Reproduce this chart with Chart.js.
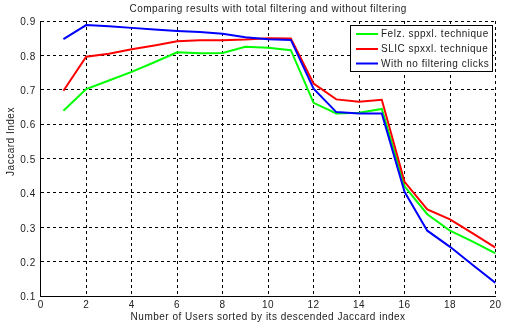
<!DOCTYPE html>
<html>
<head>
<meta charset="utf-8">
<script src="https://cdn.jsdelivr.net/npm/chart.js@4.4.0/dist/chart.umd.min.js"></script>
<style>
  html, body { margin: 0; padding: 0; background: #ffffff; }
  #wrap { width: 507px; height: 329px; }
</style>
</head>
<body>
<div id="wrap"><canvas id="c" width="507" height="329"></canvas></div>
<script>
// ---- data ----
const userIndex = [1, 2, 3, 4, 5, 6, 7, 8, 9, 10, 11, 12, 13, 14, 15, 16, 17, 18, 19, 20];
const felzValues = [0.639, 0.702, 0.727, 0.752, 0.780, 0.809, 0.806, 0.807, 0.825, 0.822,
                    0.815, 0.662, 0.631, 0.633, 0.644, 0.419, 0.338, 0.290, 0.258, 0.224];
const slicValues = [0.697, 0.796, 0.805, 0.818, 0.829, 0.841, 0.844, 0.844, 0.846, 0.850,
                    0.849, 0.718, 0.672, 0.665, 0.671, 0.432, 0.352, 0.323, 0.282, 0.241];
const noFilterValues = [0.847, 0.888, 0.885, 0.880, 0.875, 0.871, 0.868, 0.863, 0.853, 0.847,
                        0.845, 0.703, 0.635, 0.631, 0.631, 0.403, 0.290, 0.243, 0.190, 0.138];
const seriesLabels = ['Felz. sppxl. technique', 'SLIC spxxl. technique', 'With no filtering clicks'];
const chartTitle = 'Comparing results with total filtering and without filtering';
const xAxisTitle = 'Number of Users sorted by its descended Jaccard index';
const yAxisTitle = 'Jaccard Index';
const xTickValues = [0, 2, 4, 6, 8, 10, 12, 14, 16, 18, 20];
const yTickValues = [0.1, 0.2, 0.3, 0.4, 0.5, 0.6, 0.7, 0.8, 0.9];

const FONT = '"Liberation Sans", Arial, sans-serif';
const TEXT = '#222222';
const SPACING = '0.5px';

function pts(vals) { return userIndex.map((x, i) => ({ x: x, y: vals[i] })); }

const spacingPlugin = {
  id: 'letterSpacing',
  beforeInit(chart) { chart.ctx.letterSpacing = SPACING; },
  beforeUpdate(chart) { chart.ctx.letterSpacing = SPACING; },
  beforeDraw(chart) { chart.ctx.letterSpacing = SPACING; }
};

const annotationsPlugin = {
  id: 'legendBox',
  afterDraw(chart) {
    const ctx = chart.ctx;
    const area = chart.chartArea;
    ctx.save();
    ctx.letterSpacing = SPACING;
    ctx.font = '10px ' + FONT;
    ctx.fillStyle = TEXT;
    ctx.textBaseline = 'middle';
    // chart title, centred over the plot area
    ctx.textAlign = 'center';
    ctx.fillText(chartTitle, (area.left + area.right) / 2, 9.5);

    // legend box
    const x0 = 350.5, y0 = 25.5, w = 142, h = 46;
    ctx.fillStyle = '#ffffff';
    ctx.fillRect(x0, y0, w, h);
    ctx.strokeStyle = '#000000';
    ctx.lineWidth = 1;
    ctx.setLineDash([]);
    ctx.strokeRect(x0, y0, w, h);
    const ds = chart.data.datasets;
    const rows = [34, 49, 63.5];
    ctx.textAlign = 'left';
    ds.forEach((d, i) => {
      ctx.strokeStyle = d.borderColor;
      ctx.lineWidth = 2;
      ctx.beginPath();
      ctx.moveTo(356, rows[i]);
      ctx.lineTo(378, rows[i]);
      ctx.stroke();
      ctx.fillStyle = TEXT;
      ctx.fillText(d.label, 381, rows[i] + 0.5);
    });
    // y axis title
    ctx.save();
    ctx.translate(11, 141.5);
    ctx.rotate(-Math.PI / 2);
    ctx.textAlign = 'center';
    ctx.fillStyle = TEXT;
    ctx.fillText(yAxisTitle, 0, 0);
    ctx.restore();
    ctx.restore();
  }
};

const ctx = document.getElementById('c').getContext('2d');
new Chart(ctx, {
  type: 'line',
  data: {
    datasets: [
      { label: seriesLabels[0], data: pts(felzValues), borderColor: '#00ff00', order: 2 },
      { label: seriesLabels[1], data: pts(slicValues), borderColor: '#ff0000', order: 1 },
      { label: seriesLabels[2], data: pts(noFilterValues), borderColor: '#0000ff', order: 0 }
    ]
  },
  options: {
    responsive: false,
    animation: false,
    devicePixelRatio: 1,
    layout: { padding: { top: 21, right: 11.5, bottom: 0, left: 0 } },
    elements: {
      line: { borderWidth: 2, tension: 0, fill: false },
      point: { radius: 0, hoverRadius: 0 }
    },
    plugins: {
      legend: { display: false },
      tooltip: { enabled: false },
      title: { display: false }
    },
    scales: {
      x: {
        type: 'linear',
        min: 0, max: 20,
        afterFit(s) { s.height = 33; },
        afterBuildTicks(s) { s.ticks = xTickValues.map(v => ({ value: v })); },
        ticks: { color: TEXT, font: { family: FONT, size: 10 }, padding: 3, maxRotation: 0, autoSkip: false },
        grid: { color: '#000000', lineWidth: 1, drawTicks: false },
        border: { display: true, color: '#000000', width: 1, dash: [3, 3] },
        title: {
          display: true, text: xAxisTitle, color: TEXT,
          font: { family: FONT, size: 10 }, padding: { top: 0, bottom: 6 }
        }
      },
      y: {
        type: 'linear',
        min: 0.1, max: 0.9,
        afterFit(s) { s.width = 40.7; },
        afterBuildTicks(s) { s.ticks = yTickValues.map(v => ({ value: v })); },
        ticks: {
          color: TEXT, font: { family: FONT, size: 10 }, padding: 5, labelOffset: 1.5,
          autoSkip: false,
          callback: v => Number(v).toFixed(1)
        },
        grid: { color: '#000000', lineWidth: 1, drawTicks: false },
        border: { display: true, color: '#000000', width: 1, dash: [3, 3] }
      }
    }
  },
  plugins: [spacingPlugin, annotationsPlugin]
});
</script>
</body>
</html>
